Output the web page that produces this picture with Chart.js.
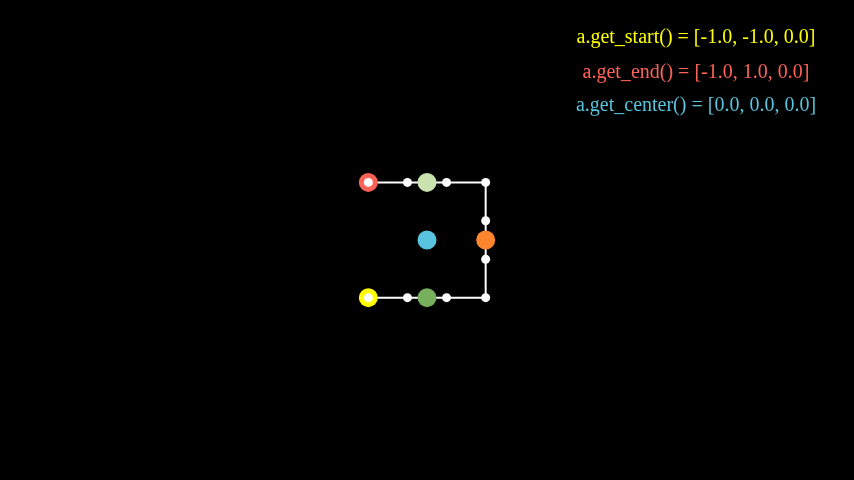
<!DOCTYPE html>
<html><head><meta charset="utf-8">
<script src="https://cdn.jsdelivr.net/npm/chart.js@4/dist/chart.umd.min.js"></script>
<style>html,body{margin:0;background:#000;overflow:hidden}</style>
</head><body>
<canvas id="c" width="854" height="480"></canvas>
<script>
const pathPoints = [[-1,-1],[1,-1],[1,1],[-1,1]];
const handlePoints = [[-1,-1],[-1/3,-1],[1/3,-1],[1,-1],[1,-1/3],[1,1/3],[1,1],[1/3,1],[-1/3,1],[-1,1]];
const markerPoints = [[-1,-1],[-1,1],[0,1],[0,-1],[1,0],[0,0]];
const markerColors = ['#FFFF00','#FC6255','#C9E2AE','#77B05D','#FF862F','#58C4DD'];
const labels = ['a.get_start() = [-1.0, -1.0, 0.0]','a.get_end() = [-1.0, 1.0, 0.0]','a.get_center() = [0.0, 0.0, 0.0]'];
const labelColors = ['#FFFF00','#FC6255','#58C4DD'];
const toXY = a => a.map(p => ({x:p[0], y:p[1]}));
const textPlugin = {id:'txt', afterDraw(ch){
  const c = ch.ctx; c.save(); c.font = '20px "Liberation Serif", serif';
  c.textAlign='center'; c.textBaseline='middle';
  const ys=[38,73,106];
  labels.forEach((t,i)=>{c.fillStyle=labelColors[i]; c.fillText(t,696,ys[i]);});
  c.restore();
}};
new Chart(document.getElementById('c'), {
  type:'scatter',
  data:{datasets:[
    {data:toXY(handlePoints), showLine:false, pointRadius:4.5, pointBackgroundColor:'#fff', pointBorderWidth:0, order:0},
    {data:toXY(markerPoints), showLine:false, pointRadius:9.5, pointBackgroundColor:markerColors, pointBorderWidth:0, order:1},
    {data:toXY(pathPoints), showLine:true, borderColor:'#fff', borderWidth:2, pointRadius:0, order:2}
  ]},
  options:{responsive:false, animation:false, layout:{padding:0},
    plugins:{legend:{display:false}, tooltip:{enabled:false}},
    scales:{x:{type:'linear',min:-7.1167,max:7.1167,display:false},
            y:{type:'linear',min:-4,max:4,display:false}}},
  plugins:[textPlugin]
});
</script>
</body></html>
